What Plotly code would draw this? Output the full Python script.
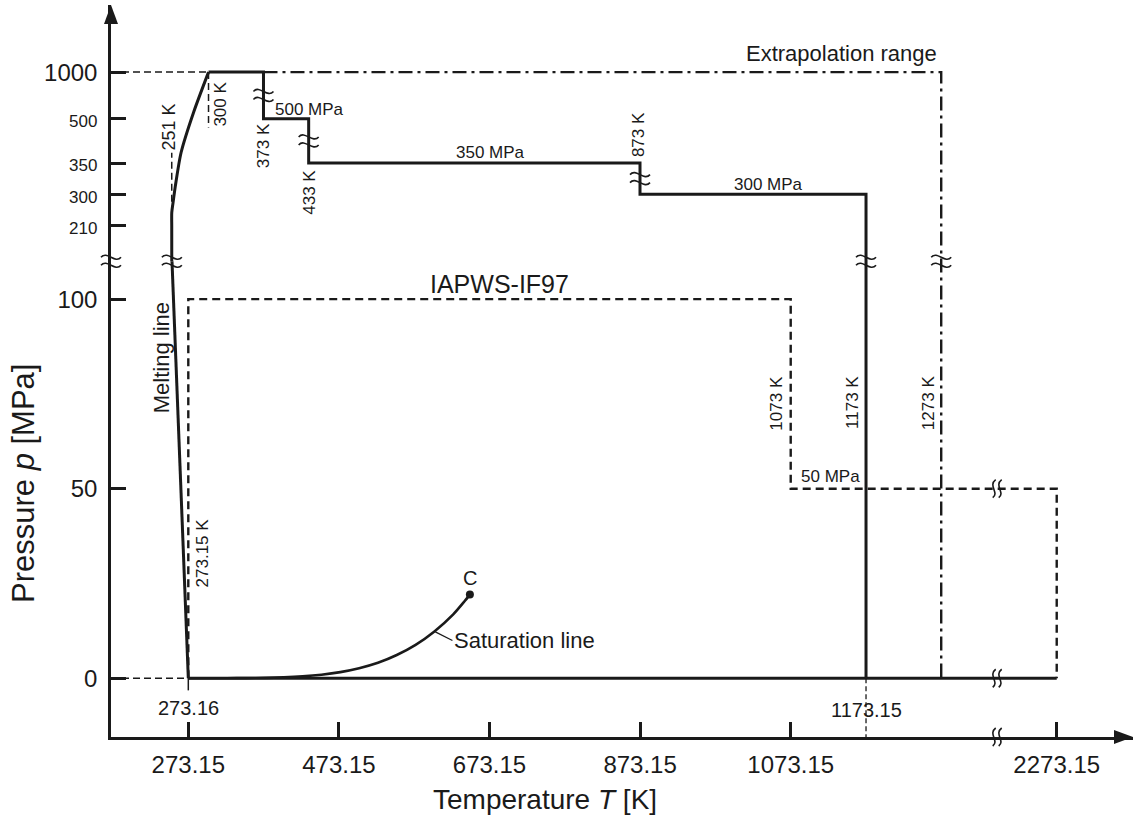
import numpy as np
import plotly.graph_objects as go

# ---------------------------------------------------------------------------
# Data: temperatures in K, pressures in MPa
# ---------------------------------------------------------------------------
# melting line: ice Ih branch (first two points), then ice III/V/VI branch
MELT_T = [273.16, 251.5, 251.2, 251.165, 251.2, 253.5, 256.2, 263.5, 280.0, 300.0]
MELT_P = [0.000611, 110, 200, 209.9, 247, 285, 315, 385, 565, 1000]
MELT_SPLIT = 2

SAT_T = [273.16, 300, 325, 350, 375, 400, 425, 450, 475, 500, 525, 550, 575, 600, 625, 640, 647.096]
SAT_P = [0.000611, 0.00354, 0.0135, 0.0417, 0.109, 0.246, 0.500, 0.932, 1.61, 2.64,
         4.07, 6.12, 8.80, 12.34, 16.85, 20.3, 22.064]
CRIT_T, CRIT_P = 647.096, 22.064

# IAPWS-95 validity boundary (solid steps)
IAPWS95_T = [300, 373, 373, 433, 433, 873, 873, 1173.15, 1173.15]
IAPWS95_P = [1000, 1000, 500, 500, 350, 350, 300, 300, 0]

# IAPWS-IF97 range (dashed)
IF97_T = [273.15, 273.15, 1073.15, 1073.15, 2273.15, 2273.15]
IF97_P = [0, 100, 100, 50, 50, 0]

# extrapolation range (dash-dot)
EXTRAP_T = [373, 1273, 1273]
EXTRAP_P = [1000, 1000, 0]

# zero-pressure base line
BASE_T = [273.16, 2273.15]
BASE_P = [0, 0]

# reference isotherms
T_251, P_251 = 251.165, [247, 385]
T_300, P_300 = 300, [1000, 470]

X_TICKS = [273.15, 473.15, 673.15, 873.15, 1073.15, 2273.15]
X_TICK_TEXT = ["273.15", "473.15", "673.15", "873.15", "1073.15", "2273.15"]
Y_TICKS = [0, 50, 100, 210, 300, 350, 500, 1000]
Y_TICK_TEXT = ["0", "50", "100", "210", "300", "350", "500", "1000"]
Y_SMALL_TICKS = {210, 300, 350, 500}

# ---------------------------------------------------------------------------
# Broken axes
# ---------------------------------------------------------------------------
T_BREAK = 1346.7      # temperatures above this are shifted left
T_SHIFT = 846.75
P_KNOTS = [0, 110, 200, 210, 300, 350, 500, 1000]
Y_KNOTS = [0, 110, 110, 119.4, 127.7, 135.9, 147.6, 159.9]
Y_BREAK = 110

X_RANGE = [170.5, 1527.7]
Y_RANGE = [-15.5, 177.6]


def tx(T):
    T = np.asarray(T, dtype=float)
    return np.where(T > T_BREAK, T - T_SHIFT, T)


def py(p):
    return np.interp(np.asarray(p, dtype=float), P_KNOTS, Y_KNOTS)


INK = "#1a1a1a"
FONT = "Liberation Sans, Arial, Helvetica, sans-serif"

fig = go.Figure()


def add_line(T, p, width=3.0, dash="solid", xs=None, ys=None, clip=True, shape="linear"):
    fig.add_trace(go.Scatter(
        x=tx(T) if xs is None else xs,
        y=py(p) if ys is None else ys,
        mode="lines",
        line=dict(color=INK, width=width, dash=dash, shape=shape,
                  smoothing=0.7 if shape == "spline" else None),
        hoverinfo="skip", showlegend=False, cliponaxis=clip,
    ))


DASH = "8px,5px"
THIN_DASH = "7px,4px"
DASH_DOT = "14px,5px,3px,5px"

# thin helper lines from the pressure axis
add_line(None, None, 1.5, THIN_DASH, xs=[X_RANGE[0], float(tx(MELT_T[-1]))], ys=py([1000, 1000]))
add_line(None, None, 1.5, THIN_DASH, xs=[X_RANGE[0], float(tx(BASE_T[0]))], ys=py([0, 0]))
add_line([T_251, T_251], P_251, 1.5, THIN_DASH)
add_line([T_300, T_300], P_300, 1.5, THIN_DASH)

# ranges
add_line(IF97_T, IF97_P, 2.4, DASH)
add_line(EXTRAP_T, EXTRAP_P, 2.4, DASH_DOT)
add_line(BASE_T, BASE_P, 3.0)
add_line(IAPWS95_T, IAPWS95_P, 3.0)
add_line(MELT_T[:MELT_SPLIT], MELT_P[:MELT_SPLIT], 3.0)
add_line(MELT_T[MELT_SPLIT:], MELT_P[MELT_SPLIT:], 3.0, shape="spline")
add_line(SAT_T, SAT_P, 2.6, shape="spline")

# short ticks below the base line
add_line(None, None, 1.5, xs=tx([273.16, 273.16]), ys=[0, -3.2], clip=False)
add_line(None, None, 1.3, "5px,3px", xs=tx([1173.15, 1173.15]), ys=[0, -18.0], clip=False)

# critical point
fig.add_trace(go.Scatter(
    x=tx([CRIT_T]), y=py([CRIT_P]), mode="markers",
    marker=dict(color=INK, size=8), hoverinfo="skip", showlegend=False,
))

# ---------------------------------------------------------------------------
# Break marks
# ---------------------------------------------------------------------------
shapes = []


def vbreak(x, y, xref="x", yref="y"):
    # two small tildes across a vertical line
    path = ("M -10,-4 C -4,3 4,-11 10,-4 "
            "M -10,4 C -4,11 4,-3 10,4")
    shapes.append(dict(type="path", xref=xref, yref=yref, xsizemode="pixel",
                       ysizemode="pixel", xanchor=x, yanchor=y, path=path,
                       line=dict(color=INK, width=1.6)))


def hbreak(x, y, xref="x", yref="y"):
    # two small wavy strokes across a horizontal line
    path = ("M -4,-9 C 3,-4 -9,3 -1,9 "
            "M 2,-9 C 9,-4 -3,3 5,9")
    shapes.append(dict(type="path", xref=xref, yref=yref, xsizemode="pixel",
                       ysizemode="pixel", xanchor=x, yanchor=y, path=path,
                       line=dict(color=INK, width=1.6)))


vbreak(0, Y_BREAK, xref="paper")
vbreak(float(tx(251.35)), Y_BREAK)
vbreak(float(tx(1173.15)), Y_BREAK)
vbreak(float(tx(1273)), Y_BREAK)
for T, pa, pb in [(373, 1000, 500), (433, 500, 350), (873, 350, 300)]:
    vbreak(float(tx(T)), float((py(pa) + py(pb)) / 2))
hbreak(T_BREAK, 0)
hbreak(T_BREAK, 50)
hbreak(T_BREAK, 0, yref="paper")

# axis arrowheads
shapes.append(dict(type="path", xref="paper", yref="paper", xsizemode="pixel",
                   ysizemode="pixel", xanchor=1, yanchor=0,
                   path="M 0,0 L -19,7 L -19,-7 Z", fillcolor=INK, line=dict(width=0)))
shapes.append(dict(type="path", xref="paper", yref="paper", xsizemode="pixel",
                   ysizemode="pixel", xanchor=0, yanchor=1,
                   path="M 0,0 L -7,-19 L 7,-19 Z", fillcolor=INK, line=dict(width=0)))

# ---------------------------------------------------------------------------
# Labels
# ---------------------------------------------------------------------------
annotations = []


def label(text, T, p, dx=0, dy=0, size=17, angle=0, xanchor="center", yanchor="middle"):
    annotations.append(dict(
        x=float(tx(T)), y=float(py(p)), text=text, showarrow=False,
        xshift=dx, yshift=dy, textangle=angle, xanchor=xanchor, yanchor=yanchor,
        font=dict(family=FONT, size=size, color=INK),
    ))


label("251 K", T_251, P_251[1], dx=-3, dy=26, size=18, angle=-90)
label("300 K", 300, 1000, dx=12, dy=-32, size=17, angle=-90)
label("373 K", 373, 500, dx=0, dy=-27, size=17, angle=-90)
label("433 K", 433, 350, dx=0, dy=-29, size=17, angle=-90)
label("873 K", 873, 350, dx=-2, dy=28, size=17, angle=-90)
label("1073 K", 1073.15, 75, dx=-14, dy=-9, size=17, angle=-90)
label("1173 K", 1173.15, 75, dx=-13, dy=-9, size=17, angle=-90)
label("1273 K", 1273, 75, dx=-12, dy=-9, size=17, angle=-90)
label("273.15 K", 273.15, 33, dx=14, size=17, angle=-90)
label("Melting line", 273.15, 84.5, dx=-26, size=22, angle=-90)

label("500 MPa", 373, 500, dx=10, dy=9, size=17, xanchor="left")
label("350 MPa", 653, 350, dx=16, dy=11, size=17)
label("300 MPa", 1023, 300, dx=16, dy=10, size=17)
label("50 MPa", 1073.15, 50, dx=8, dy=12, size=17, xanchor="left")
label("IAPWS-IF97", 673.15, 100, dx=10, dy=15, size=25)
label("Extrapolation range", 1273, 1000, dx=-2, dy=19, size=22, xanchor="right")
label("C", CRIT_T, CRIT_P, dy=17, size=20)
label("273.16", 273.16, 0, dy=-30, size=20)
label("1173.15", 1173.15, 0, dy=-32, size=20)

annotations.append(dict(
    x=float(tx(600)), y=float(py(12.34)), text="Saturation line",
    showarrow=True, arrowhead=0, arrowwidth=1.3, arrowcolor=INK,
    ax=18, ay=9, xanchor="left", yanchor="middle", standoff=1,
    font=dict(family=FONT, size=22, color=INK),
))

annotations.append(dict(
    xref="paper", yref="paper", x=0.4247, y=-0.086, showarrow=False,
    text="Temperature <i>T</i> [K]", xanchor="center", yanchor="middle",
    font=dict(family=FONT, size=28, color=INK),
))
annotations.append(dict(
    xref="paper", yref="paper", x=-0.0851, y=0.347, showarrow=False,
    text="Pressure <i>p</i> [MPa]", textangle=-90, xanchor="center", yanchor="middle",
    font=dict(family=FONT, size=31, color=INK),
))

y_tick_text = [
    f"<span style='font-size:17px'>{t}</span>" if v in Y_SMALL_TICKS else t
    for v, t in zip(Y_TICKS, Y_TICK_TEXT)
]

fig.update_layout(
    width=1135, height=824,
    margin=dict(l=111, r=2, t=5, b=87),
    paper_bgcolor="white", plot_bgcolor="white",
    showlegend=False,
    font=dict(family=FONT, color=INK),
    shapes=shapes,
    annotations=annotations,
    xaxis=dict(
        range=X_RANGE, showgrid=False, zeroline=False,
        showline=True, linecolor=INK, linewidth=2.5,
        ticks="inside", ticklen=15, tickwidth=2.5, tickcolor=INK,
        tickvals=tx(X_TICKS).tolist(), ticktext=X_TICK_TEXT,
        tickfont=dict(family=FONT, size=24, color=INK),
        ticklabelstandoff=4,
    ),
    yaxis=dict(
        range=Y_RANGE, showgrid=False, zeroline=False,
        showline=True, linecolor=INK, linewidth=2.5,
        ticks="inside", ticklen=15, tickwidth=2.5, tickcolor=INK,
        tickvals=py(Y_TICKS).tolist(), ticktext=y_tick_text,
        tickfont=dict(family=FONT, size=24, color=INK),
        ticklabelstandoff=6,
    ),
)

fig.write_html("out.html")
